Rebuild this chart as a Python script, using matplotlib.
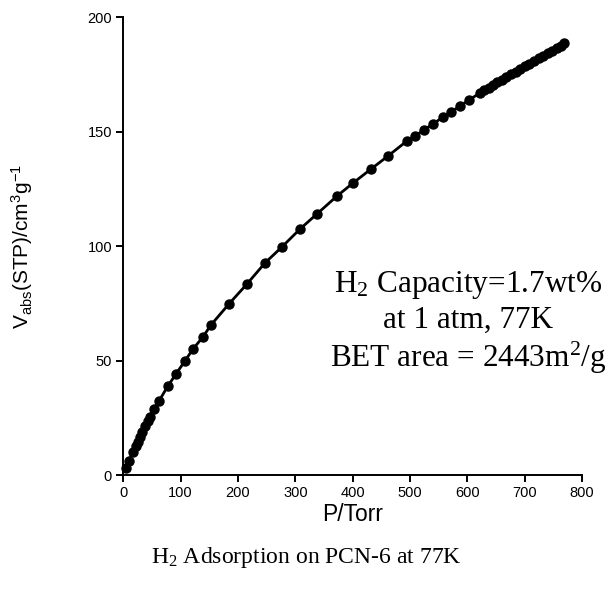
import matplotlib
matplotlib.use("Agg")
import matplotlib.pyplot as plt

plt.rcParams['font.family'] = ['Liberation Sans', 'DejaVu Sans']
plt.rcParams['mathtext.default'] = 'regular'

pressure = [4.7, 9.9, 16.9, 22.1, 25.6, 29.1, 32.6, 37.8, 43.1, 46.6, 53.5, 62.3,
            78.0, 91.9, 107.6, 121.6, 139.0, 152.9, 184.3, 215.7, 247.1, 276.7,
            308.1, 337.7, 372.6, 400.5, 431.9, 461.5, 494.7, 508.6, 524.3, 540.0,
            557.4, 571.3, 587.0, 602.7, 621.9, 629, 637, 645, 652, 660, 668, 676,
            684, 692, 700, 708, 716, 724, 732, 740, 748, 756, 763, 769]
volume = [3.1, 6.1, 10.0, 12.7, 14.4, 16.6, 18.8, 21.4, 23.6, 25.3, 28.8, 32.3,
          38.9, 44.1, 49.8, 55.0, 60.3, 65.5, 74.7, 83.4, 92.6, 99.6,
          107.4, 114.0, 121.8, 127.5, 133.6, 139.3, 145.9, 148.0, 150.7, 153.3,
          156.3, 158.5, 161.1, 163.8, 166.8, 168.0, 169.2, 170.4, 171.5, 172.7, 173.9, 175.1,
          176.2, 177.4, 178.5, 179.7, 180.8, 181.9, 183.0, 184.1, 185.2, 186.3, 187.4, 188.5]

x_ticks = [0, 100, 200, 300, 400, 500, 600, 700, 800]
y_ticks = [0, 50, 100, 150, 200]

fig = plt.figure(figsize=(6.16, 5.94), dpi=100)
ax = fig.add_axes([0.200, 0.2003, 0.745, 0.771])
ax.plot(pressure, volume, color='black', lw=2, marker='o', markersize=6.5,
        markerfacecolor='black', markeredgecolor='black', clip_on=False)
ax.set_xlim(0, 800)
ax.set_ylim(0, 200)
ax.set_xticks(x_ticks)
ax.set_yticks(y_ticks)
for s in ['top', 'right']:
    ax.spines[s].set_visible(False)
for s in ['left', 'bottom']:
    ax.spines[s].set_linewidth(1.4)
ax.tick_params(direction='out', length=5, width=1.4, labelsize=10.5, pad=3)

ax.set_xlabel('P/Torr', fontsize=16.5, labelpad=2)
ax.set_ylabel('V$_{abs}$(STP)/cm$^{3}$g$^{-1}$', fontsize=15, labelpad=38)

serif = ['Liberation Serif', 'DejaVu Serif']
ax.text(0.752, 0.332, 'H$_2$ Capacity=1.7wt%\nat 1 atm, 77K\nBET area = 2443m$^2$/g',
        transform=ax.transAxes, ha='center', va='center', fontsize=22.5,
        family=serif, linespacing=1.2)

fig.text(0.497, 0.062, 'H$_2$ Adsorption on PCN-6 at 77K', ha='center', va='center',
         fontsize=17, family=serif)

fig.savefig('out.png', dpi=100)
